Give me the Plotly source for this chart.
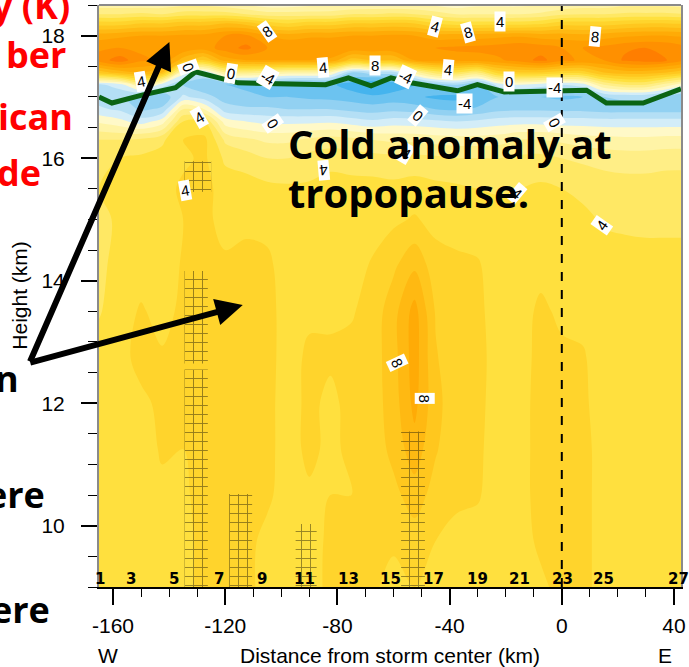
import plotly.graph_objects as go

# ---------------- data ----------------
x_km = [-165, -157.5, -150, -142.5, -135, -127.5, -120, -112.5, -105, -97.5, -90, -82.5,
        -75, -67.5, -60, -52.5, -45, -37.5, -30, -22.5, -15, -7.5, 0, 7.5, 15, 22.5, 30, 37.5, 45]
heights_km = [9.0, 9.75, 10.5, 11.25, 12.0, 12.75, 13.5, 14.25, 15.0, 15.5, 16.0, 16.3,
              16.6, 16.8, 17.0, 17.2, 17.4, 17.6, 17.8, 18.0, 18.2, 18.35, 18.5]

# temperature anomaly (K), one list per x column, bottom -> top
anomaly_by_column = [
    [4.5, 4.5, 4.5, 4.5, 4.5, 4.5, 3.9, 3.8, 3.7, 4.0, 3.8, 3.0, 0.8, -0.8, -1.5, -1.2, 6.5, 10.5, 9.8, 8.5, 5.5, 3.0, 1.5],
    [4.5, 4.5, 4.5, 4.5, 4.6, 4.7, 4.6, 4.3, 4.2, 4.3, 4.0, 3.0, 0.3, -1.2, -1.8, -0.5, 7.5, 11.5, 10.0, 8.8, 5.5, 3.0, 1.5],
    [4.5, 4.5, 4.5, 4.6, 4.8, 5.3, 5.1, 4.6, 4.4, 4.5, 4.2, 3.2, -0.5, -2.2, -2.5, 2.0, 8.0, 10.2, 9.8, 9.0, 6.0, 3.2, 1.5],
    [4.5, 4.6, 4.8, 5.1, 5.2, 5.1, 4.7, 4.5, 4.5, 4.6, 4.4, 3.8, 0.5, -1.8, -2.8, -0.5, 7.0, 9.8, 9.8, 9.0, 6.0, 3.0, 1.5],
    [4.7, 4.7, 4.8, 5.0, 5.3, 5.3, 5.2, 5.1, 5.0, 5.2, 4.8, 5.0, 4.0, 2.0, -0.8, -2.0, 0.5, 7.5, 9.8, 9.2, 6.5, 3.5, 1.8],
    [5.3, 5.3, 5.4, 5.4, 5.5, 5.4, 5.3, 5.4, 5.3, 5.3, 5.2, 5.3, 4.0, 1.0, -1.5, -3.0, -1.0, 6.0, 9.5, 9.3, 6.5, 3.5, 1.8],
    [5.4, 5.5, 5.5, 5.5, 5.5, 5.4, 5.4, 5.2, 4.6, 4.6, 3.8, 2.8, 0.5, -1.5, -2.5, -3.0, 2.0, 8.5, 10.5, 10.0, 7.0, 3.5, 1.5],
    [5.3, 5.3, 5.4, 5.4, 5.4, 5.5, 5.5, 5.4, 4.7, 4.5, 3.5, 2.2, 0.0, -1.8, -2.8, -3.2, 2.5, 9.0, 11.3, 10.2, 6.5, 3.0, 1.0],
    [4.6, 4.7, 5.2, 5.3, 5.3, 5.3, 5.3, 5.2, 4.7, 4.3, 3.0, 1.8, -0.3, -1.8, -3.0, -3.5, 2.0, 9.0, 10.0, 9.0, 5.5, 2.5, 0.5],
    [4.5, 4.5, 4.5, 4.5, 4.5, 4.6, 4.6, 4.5, 4.4, 4.2, 3.0, 1.8, -0.3, -2.0, -3.0, -3.8, 1.5, 9.0, 10.0, 8.5, 5.0, 2.5, 0.5],
    [4.5, 4.6, 4.8, 5.3, 5.3, 5.2, 4.8, 4.5, 4.4, 4.2, 3.4, 2.2, -0.3, -2.0, -3.2, -4.0, 1.5, 9.0, 10.0, 8.8, 5.5, 2.5, 0.8],
    [5.3, 5.2, 5.0, 4.7, 4.7, 5.2, 4.8, 4.5, 4.5, 4.5, 3.6, 2.5, -0.2, -2.0, -3.3, -3.8, 1.0, 8.8, 10.0, 8.8, 5.5, 2.5, 1.0],
    [5.2, 5.2, 5.0, 5.3, 5.4, 5.3, 4.9, 4.6, 4.5, 4.4, 3.5, 2.3, -0.5, -2.3, -3.5, -4.5, -2.0, 6.5, 9.8, 9.0, 6.0, 3.0, 1.0],
    [5.1, 5.0, 5.2, 5.4, 5.5, 5.5, 5.4, 5.1, 4.6, 4.4, 3.4, 2.0, -0.8, -2.5, -3.8, -5.2, -1.5, 7.0, 9.8, 9.0, 6.0, 3.0, 1.2],
    [4.8, 5.1, 5.7, 6.3, 6.5, 6.6, 6.6, 5.8, 4.8, 4.3, 3.3, 1.8, -0.5, -2.3, -3.6, -4.6, -1.5, 7.0, 9.8, 9.2, 6.2, 3.2, 1.2],
    [5.0, 5.5, 6.5, 7.6, 8.3, 8.5, 8.4, 6.8, 5.1, 4.5, 3.3, 1.8, -0.6, -2.5, -3.8, -4.0, 1.5, 9.0, 10.0, 9.0, 6.0, 3.0, 1.0],
    [4.8, 5.0, 5.6, 6.1, 6.3, 6.1, 5.9, 5.4, 4.7, 4.3, 3.2, 1.6, -0.8, -3.0, -4.2, -2.5, 3.5, 9.5, 10.0, 8.5, 5.0, 2.5, 0.8],
    [4.6, 4.7, 5.2, 5.3, 5.4, 5.3, 5.3, 5.2, 4.6, 4.2, 3.0, 1.5, -1.0, -3.2, -4.3, -2.0, 4.0, 9.5, 10.2, 8.5, 4.5, 2.0, 0.5],
    [4.6, 4.6, 5.1, 5.2, 5.3, 5.3, 5.2, 5.1, 4.5, 4.0, 3.0, 1.5, -0.8, -2.8, -3.8, -3.0, 3.0, 9.5, 10.3, 8.5, 4.5, 2.0, 0.8],
    [4.5, 4.5, 4.5, 4.5, 4.5, 4.6, 4.6, 4.5, 4.4, 3.9, 3.0, 1.6, -0.5, -2.3, -3.0, -0.5, 5.5, 9.8, 10.5, 8.7, 4.5, 2.0, 0.8],
    [4.6, 4.6, 4.6, 4.6, 4.6, 4.6, 4.6, 4.5, 4.4, 4.0, 3.2, 2.0, -0.4, -2.2, -3.0, 0.0, 6.0, 10.5, 10.8, 8.8, 4.5, 2.0, 0.8],
    [4.8, 5.2, 5.4, 5.4, 5.4, 5.3, 5.2, 4.7, 4.4, 4.2, 3.3, 2.0, -0.4, -2.2, -3.0, -0.5, 6.0, 11.3, 10.5, 8.5, 4.8, 2.2, 1.0],
    [5.3, 5.3, 5.3, 5.4, 5.3, 5.2, 4.8, 4.6, 4.4, 4.0, 3.0, 1.8, -0.5, -2.3, -3.2, -1.0, 5.5, 10.3, 10.0, 8.5, 5.5, 2.8, 1.2],
    [5.3, 5.3, 5.3, 5.3, 5.2, 5.1, 4.7, 4.5, 4.2, 3.8, 2.8, 1.5, -0.5, -2.3, -3.0, -0.5, 5.5, 9.8, 10.0, 8.3, 5.5, 3.0, 1.5],
    [4.6, 4.6, 4.6, 4.6, 4.5, 4.5, 4.5, 4.4, 3.9, 3.6, 2.6, 1.4, -0.6, -2.5, -2.0, 2.0, 7.0, 10.0, 10.3, 8.5, 5.5, 3.0, 1.5],
    [4.5, 4.5, 4.5, 4.5, 4.5, 4.5, 4.5, 4.4, 3.8, 3.5, 2.5, 1.3, -0.6, -2.5, -1.8, 3.0, 7.5, 11.2, 10.8, 8.8, 5.8, 3.2, 1.8],
    [4.5, 4.5, 4.5, 4.5, 4.5, 4.5, 4.5, 4.3, 3.8, 3.5, 2.5, 1.3, -0.6, -2.5, -1.8, 3.0, 7.5, 11.5, 11.0, 9.0, 6.0, 3.2, 1.8],
    [4.5, 4.5, 4.5, 4.5, 4.5, 4.5, 4.5, 4.3, 3.8, 3.6, 2.6, 1.4, -0.6, -2.5, -2.5, 1.5, 7.0, 11.0, 10.8, 9.0, 6.0, 3.2, 1.8],
    [4.5, 4.5, 4.5, 4.5, 4.5, 4.5, 4.5, 4.3, 3.8, 3.6, 2.6, 1.4, -0.6, -2.5, -3.0, 0.0, 6.0, 10.0, 10.2, 8.8, 5.8, 3.0, 1.5],
]

# tropopause (green line)
tropopause_x_km = [-165, -160.4, -149.7, -137.7, -130.6, -115.4, -84.2, -76.1, -68, -60.9,
                   -53.8, -37.2, -30.1, -20.5, 8.8, 15.9, 29, 42.5]
tropopause_h_km = [17.0, 16.9, 17.03, 17.15, 17.41, 17.23, 17.2, 17.31, 17.18, 17.31,
                   17.23, 17.1, 17.2, 17.08, 17.11, 16.9, 16.9, 17.13]

# hatched regions
hatch_left_km = [-134.5, -134.5, -134.5, -118.6, -94.9, -57.3]
hatch_right_km = [-126.2, -126.2, -125.0, -110.4, -87.4, -48.8]
hatch_bottom_km = [9.0, 12.65, 15.45, 9.0, 9.0, 9.0]
hatch_top_km = [12.55, 14.16, 15.95, 10.52, 10.03, 11.54]

# inline contour labels
clabel_x = [-105.1, -150.1, -133.1, -117.9, -104.8, -129.3, -103.0, -85.0, -66.5, -55.9,
            -45.3, -33.6, -21.9, -40.7, -18.8, -34.7, -2.5, 11.7, -51.3, -2.5,
            -85.0, -55.6, -15.9, 14.2, -134.5, -58.8, -48.8]
clabel_h = [18.07, 17.25, 17.48, 17.39, 17.31, 16.67, 16.57, 17.48, 17.52, 17.33,
            18.15, 18.05, 18.23, 17.44, 17.25, 16.9, 17.15, 17.98, 16.7, 16.59,
            15.8, 16.08, 15.43, 14.9, 15.48, 12.66, 12.08]
clabel_text = ["8", "4", "0", "0", "-4", "4", "0", "4", "8", "-4",
               "4", "8", "4", "4", "0", "-4", "-4", "8", "0", "0",
               "4", "4", "4", "4", "4", "8", "8"]
clabel_angle = [-35, -10, 70, 10, 30, -30, 55, -5, 0, 25,
                15, -15, 0, 5, 0, 0, 0, 5, 40, 60,
                175, 30, 40, -55, -10, 65, 90]

# drop-sonde numbers along the bottom
sonde_num = ["1", "3", "5", "7", "9", "11", "13", "15", "17", "19", "21", "23", "25", "27"]
sonde_x_km = [-164.6, -153.7, -138.4, -122.2, -106.9, -91.7, -76.2, -60.9, -45.8, -30.2,
              -15.0, 0.2, 15.0, 41.5]

x_tick_vals = [-160, -120, -80, -40, 0, 40]
x_tick_text = ["-160", "-120", "-80", "-40", "0", "40"]
y_tick_vals = [10, 12, 14, 16, 18]
storm_center_km = 0

# colour bands: lower bound -7(bg), -6, ..., 11
band_colors = ["#1E8FD6", "#2FA3E6", "#45B4EE", "#6CC3F0", "#92D1F2", "#B4DFF5", "#D3EDF8",
               "#FFF9C8", "#FFF4A6", "#FFEE86", "#FFE864", "#FFE03E", "#FFD42C", "#FFC71E",
               "#FFB912", "#FFAB06", "#FF9F00", "#FF9000", "#FF7E00"]

# ---------------- figure ----------------
z = [list(r) for r in zip(*anomaly_by_column)]
nb = len(band_colors)
cscale = []
for k, c in enumerate(band_colors):
    cscale.append([k / nb, c])
    cscale.append([(k + 1) / nb, c])

fig = go.Figure()
fig.add_trace(go.Contour(
    x=x_km, y=heights_km, z=z, autocontour=False,
    contours=dict(start=-6, end=12, size=1, coloring="fill", showlines=False),
    line=dict(width=0), colorscale=cscale, showscale=False, hoverinfo="skip"))

for l, r, b, t in zip(hatch_left_km, hatch_right_km, hatch_bottom_km, hatch_top_km):
    fig.add_trace(go.Scatter(
        x=[l, r, r, l, l], y=[b, b, t, t, b], mode="lines", fill="toself",
        line=dict(width=0), fillcolor="rgba(0,0,0,0)",
        fillpattern=dict(shape="+", size=9, solidity=0.2, fgcolor="rgba(30,25,5,0.95)",
                         bgcolor="rgba(0,0,0,0)"),
        hoverinfo="skip", showlegend=False))

fig.add_trace(go.Scatter(x=tropopause_x_km, y=tropopause_h_km, mode="lines",
                         line=dict(color="#0B6414", width=5), showlegend=False,
                         hoverinfo="skip"))

fig.add_trace(go.Scatter(x=[storm_center_km, storm_center_km], y=[9, 18.5], mode="lines",
                         line=dict(color="black", width=2, dash="dash"), showlegend=False,
                         hoverinfo="skip"))

PL, PR, PT, PB = 99, 686, 5, 587


def px_x(px):
    return (px - PL) / (PR - PL)


def px_y(py):
    return (PB - py) / (PB - PT)


ann = []
for x, h, t, a in zip(clabel_x, clabel_h, clabel_text, clabel_angle):
    ann.append(dict(x=x, y=h, xref="x", yref="y", text=t, showarrow=False, textangle=a,
                    font=dict(family="Liberation Sans", size=15, color="black"),
                    bgcolor="white", borderpad=1))
for t, x in zip(sonde_num, sonde_x_km):
    ann.append(dict(x=x, y=9.13, xref="x", yref="y", text="<b>%s</b>" % t, showarrow=False,
                    xanchor="center", yanchor="middle",
                    font=dict(family="DejaVu Sans", size=15, color="black")))

axis_font = dict(family="Liberation Sans", size=21, color="black")
for txt, xp, yp, ang in [("Distance from storm center (km)", 392, 655, 0), ("W", 108, 655, 0),
                         ("E", 670, 655, 0), ("Height (km)", 18, 295, -90)]:
    ann.append(dict(x=px_x(xp), y=px_y(yp), xref="paper", yref="paper", text=txt,
                    textangle=ang, showarrow=False, xanchor="center", yanchor="middle",
                    font=axis_font))

slide_font = "Open Sans"
for txt, right, center, col in [("y (K)", 72, 6, "#FF0000"), ("ber", 68, 54, "#FF0000"),
                                ("ican", 75, 117, "#FF0000"), ("de", 43, 173, "#FF0000"),
                                ("n", 20, 379, "black"), ("ere", 47, 494, "black"),
                                ("ere", 52, 609, "black")]:
    ann.append(dict(x=px_x(right), y=px_y(center), xref="paper", yref="paper",
                    text="<b>%s</b>" % txt, showarrow=False, xanchor="right", yanchor="middle",
                    font=dict(family=slide_font, size=36, color=col)))

for txt, center in [("Cold anomaly at", 143), ("tropopause.", 193)]:
    ann.append(dict(x=px_x(288), y=px_y(center), xref="paper", yref="paper",
                    text="<b>%s</b>" % txt, showarrow=False, xanchor="left", yanchor="middle",
                    font=dict(family=slide_font, size=40, color="black")))

for hx, hy in [(170, 42), (244, 305)]:
    ann.append(dict(x=px_x(hx), y=px_y(hy), xref="paper", yref="paper", text="",
                    showarrow=True, arrowhead=2, arrowsize=0.9, arrowwidth=6,
                    arrowcolor="black", ax=30 - hx, ay=363 - hy, standoff=0))

fig.update_layout(
    width=689, height=667, margin=dict(l=PL, r=689 - PR, t=PT, b=667 - PB, pad=0),
    paper_bgcolor="white", plot_bgcolor="white", showlegend=False,
    annotations=ann,
    xaxis=dict(range=[-165, 42.5], tickmode="array", tickvals=x_tick_vals, ticktext=x_tick_text,
               ticks="outside", ticklen=16, tickwidth=1.5, tickcolor="black",
               showline=True, linecolor="black", linewidth=1.5, showgrid=False, zeroline=False,
               tickfont=axis_font, ticklabelstandoff=3,
               minor=dict(tickmode="linear", tick0=0, dtick=10, ticks="outside", ticklen=8,
                          tickcolor="black", tickwidth=1)),
    yaxis=dict(range=[9, 18.5], tickmode="array", tickvals=y_tick_vals,
               ticks="outside", ticklen=16, tickwidth=1.5, tickcolor="black",
               showline=True, linecolor="#8A8A8A", linewidth=2, mirror=True,
               showgrid=False, zeroline=False, tickfont=axis_font, ticklabelstandoff=12,
               minor=dict(tickmode="linear", tick0=0, dtick=0.5, ticks="outside", ticklen=9,
                          tickcolor="black", tickwidth=1)),
    shapes=[dict(type="line", xref="paper", yref="paper", x0=0, x1=1, y0=1, y1=1,
                 line=dict(color="#8A8A8A", width=2))],
)

fig.write_html("out.html", config={"displayModeBar": False},
               post_script="document.body.style.margin='0px';")
